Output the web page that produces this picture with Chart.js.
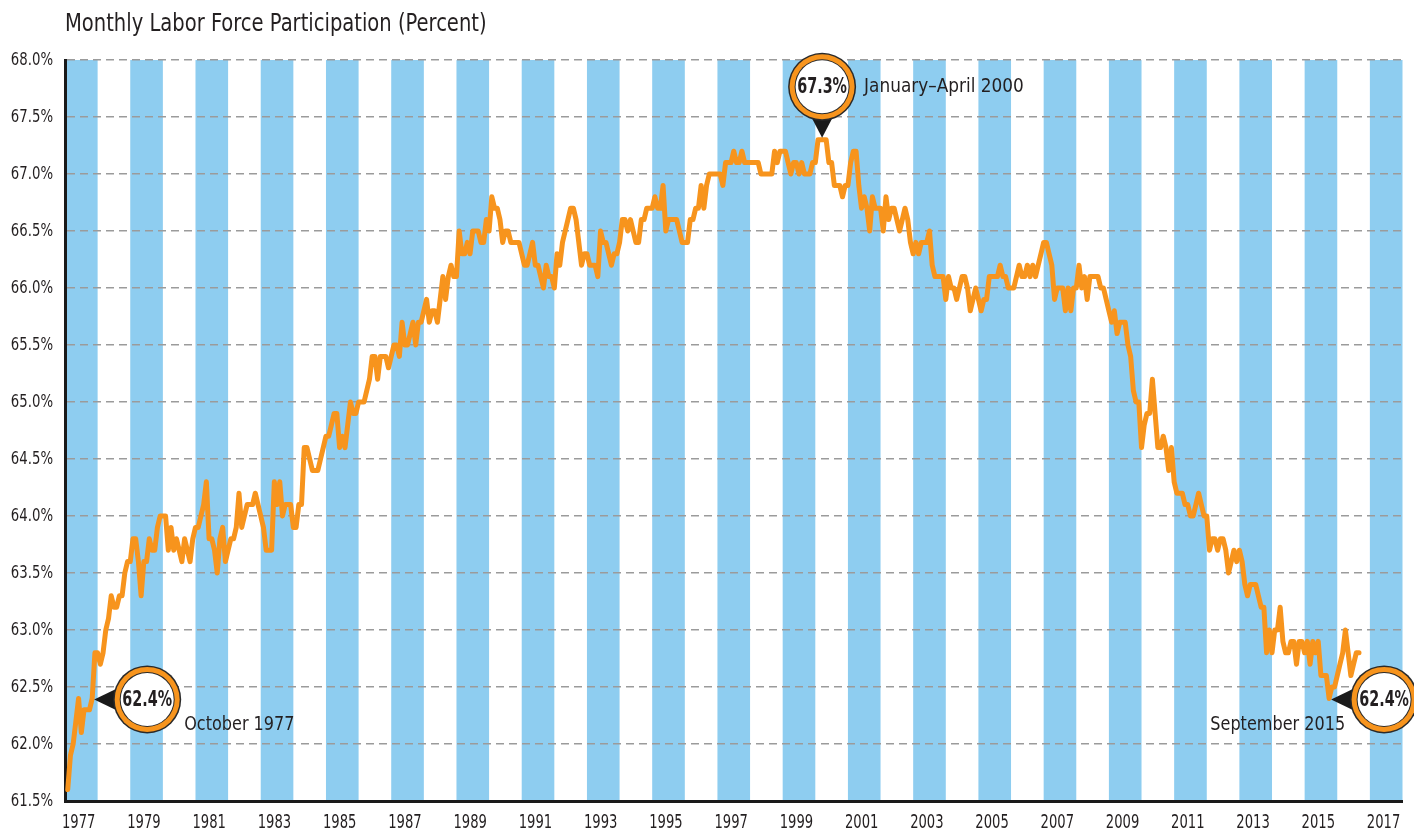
<!DOCTYPE html>
<html>
<head>
<meta charset="utf-8">
<title>Monthly Labor Force Participation</title>
<script src="https://cdn.jsdelivr.net/npm/chart.js@4.4.1/dist/chart.umd.min.js"></script>
<style>
  html, body { margin: 0; padding: 0; background: #fff; }
  #wrap { width: 1414px; height: 832px; position: relative; }
</style>
</head>
<body>
<div id="wrap"><canvas id="chart-lfpr"></canvas></div>
<script>
// monthly labor force participation rate, Jan 1977 .. Aug 2016 (one row per year)
const firstYear = 1977
const participation = [
  61.6, 61.9, 62.0, 62.2, 62.4, 62.1, 62.3, 62.3, 62.3, 62.4, 62.8, 62.8,
  62.7, 62.8, 63.0, 63.1, 63.3, 63.2, 63.2, 63.3, 63.3, 63.5, 63.6, 63.6,
  63.8, 63.8, 63.6, 63.3, 63.6, 63.6, 63.8, 63.7, 63.7, 63.9, 64.0, 64.0,
  64.0, 63.7, 63.9, 63.7, 63.8, 63.7, 63.6, 63.8, 63.7, 63.6, 63.8, 63.9,
  63.9, 64.0, 64.1, 64.3, 63.8, 63.8, 63.7, 63.5, 63.8, 63.9, 63.6, 63.7,
  63.8, 63.8, 63.9, 64.2, 63.9, 64.0, 64.1, 64.1, 64.1, 64.2, 64.1, 64.0,
  63.9, 63.7, 63.7, 63.7, 64.3, 64.1, 64.3, 64.0, 64.1, 64.1, 64.1, 63.9,
  63.9, 64.1, 64.1, 64.6, 64.6, 64.5, 64.4, 64.4, 64.4, 64.5, 64.6, 64.7,
  64.7, 64.8, 64.9, 64.9, 64.6, 64.7, 64.6, 64.8, 65.0, 64.9, 64.9, 65.0,
  65.0, 65.0, 65.1, 65.2, 65.4, 65.4, 65.2, 65.4, 65.4, 65.4, 65.3, 65.4,
  65.5, 65.5, 65.4, 65.7, 65.5, 65.5, 65.6, 65.7, 65.5, 65.7, 65.7, 65.8,
  65.9, 65.7, 65.8, 65.8, 65.7, 65.9, 66.1, 65.9, 66.1, 66.2, 66.1, 66.1,
  66.5, 66.3, 66.3, 66.4, 66.3, 66.5, 66.5, 66.5, 66.4, 66.4, 66.6, 66.5,
  66.8, 66.7, 66.7, 66.6, 66.4, 66.5, 66.5, 66.4, 66.4, 66.4, 66.4, 66.3,
  66.2, 66.2, 66.3, 66.4, 66.2, 66.2, 66.1, 66.0, 66.2, 66.1, 66.1, 66.0,
  66.3, 66.2, 66.4, 66.5, 66.6, 66.7, 66.7, 66.6, 66.4, 66.2, 66.3, 66.3,
  66.2, 66.2, 66.2, 66.1, 66.5, 66.4, 66.4, 66.3, 66.2, 66.3, 66.3, 66.4,
  66.6, 66.6, 66.5, 66.6, 66.5, 66.4, 66.4, 66.6, 66.6, 66.7, 66.7, 66.7,
  66.8, 66.7, 66.7, 66.9, 66.5, 66.6, 66.6, 66.6, 66.6, 66.5, 66.4, 66.4,
  66.4, 66.6, 66.6, 66.7, 66.7, 66.9, 66.7, 66.9, 67.0, 67.0, 67.0, 67.0,
  67.0, 66.9, 67.1, 67.1, 67.1, 67.2, 67.1, 67.1, 67.2, 67.1, 67.1, 67.1,
  67.1, 67.1, 67.1, 67.0, 67.0, 67.0, 67.0, 67.0, 67.2, 67.1, 67.2, 67.2,
  67.2, 67.1, 67.0, 67.1, 67.1, 67.0, 67.1, 67.0, 67.0, 67.0, 67.1, 67.1,
  67.3, 67.3, 67.3, 67.3, 67.1, 67.1, 66.9, 66.9, 66.9, 66.8, 66.9, 66.9,
  67.1, 67.2, 67.2, 66.9, 66.7, 66.8, 66.7, 66.5, 66.8, 66.7, 66.7, 66.7,
  66.5, 66.8, 66.6, 66.7, 66.7, 66.6, 66.5, 66.6, 66.7, 66.6, 66.4, 66.3,
  66.4, 66.3, 66.4, 66.4, 66.4, 66.5, 66.2, 66.1, 66.1, 66.1, 66.1, 65.9,
  66.1, 66.0, 66.0, 65.9, 66.0, 66.1, 66.1, 66.0, 65.8, 65.9, 66.0, 65.9,
  65.8, 65.9, 65.9, 66.1, 66.1, 66.1, 66.1, 66.2, 66.1, 66.1, 66.0, 66.0,
  66.0, 66.1, 66.2, 66.1, 66.1, 66.2, 66.1, 66.2, 66.1, 66.2, 66.3, 66.4,
  66.4, 66.3, 66.2, 65.9, 66.0, 66.0, 66.0, 65.8, 66.0, 65.8, 66.0, 66.0,
  66.2, 66.0, 66.1, 65.9, 66.1, 66.1, 66.1, 66.1, 66.0, 66.0, 65.9, 65.8,
  65.7, 65.8, 65.6, 65.7, 65.7, 65.7, 65.5, 65.4, 65.1, 65.0, 65.0, 64.6,
  64.8, 64.9, 64.9, 65.2, 64.9, 64.6, 64.6, 64.7, 64.6, 64.4, 64.6, 64.3,
  64.2, 64.2, 64.2, 64.1, 64.1, 64.0, 64.0, 64.1, 64.2, 64.1, 64.0, 64.0,
  63.7, 63.8, 63.8, 63.7, 63.8, 63.8, 63.7, 63.5, 63.6, 63.7, 63.6, 63.7,
  63.6, 63.4, 63.3, 63.4, 63.4, 63.4, 63.3, 63.2, 63.2, 62.8, 63.0, 62.8,
  63.0, 63.0, 63.2, 62.9, 62.8, 62.8, 62.9, 62.9, 62.7, 62.9, 62.9, 62.8,
  62.9, 62.7, 62.9, 62.8, 62.9, 62.6, 62.6, 62.6, 62.4, 62.5, 62.5, 62.6,
  62.7, 62.8, 63.0, 62.8, 62.6, 62.7, 62.8, 62.8,
]

const tickYears = [1977, 1979, 1981, 1983, 1985, 1987, 1989, 1991, 1993, 1995, 1997,
  1999, 2001, 2003, 2005, 2007, 2009, 2011, 2013, 2015, 2017]

const yMin = 61.5
const yMax = 68.0
const lastYear = 2018

// callouts: value, month (year + month / 12), label
const calloutValues = [62.4, 67.3, 62.4]
const calloutMonths = [1977 + 10 / 12, 2000 + 2.5 / 12, 2015 + 9 / 12]
const calloutNotes = ["October 1977", "January\u2013April 2000", "September 2015"]

// no narrow font installed, so condensed text gets squeezed a bit more by hand
const FONT = '"DejaVu Sans Condensed", "Liberation Sans Narrow", sans-serif'
const TEXT = "#231f20"
const ORANGE = "#f7941d"
const BAND = "#8ecdf0"

const points = participation.map((v, i) => ({ x: firstYear + (i + 1) / 12, y: v }))

function narrowText(ctx, text, x, y, align, font, sx) {
  ctx.save()
  ctx.font = font
  ctx.fillStyle = TEXT
  ctx.textAlign = align
  ctx.textBaseline = "middle"
  ctx.translate(x, y)
  ctx.scale(sx, 1)
  ctx.fillText(text, 0, 0)
  ctx.restore()
}

const yearBands = {
  id: "yearBands",
  beforeDraw(chart) {
    const { ctx, chartArea, scales } = chart
    ctx.save()
    ctx.fillStyle = BAND
    tickYears.forEach((yr) => {
      const x0 = scales.x.getPixelForValue(yr)
      const x1 = scales.x.getPixelForValue(yr + 1)
      ctx.fillRect(x0, chartArea.top, x1 - x0, chartArea.bottom - chartArea.top)
    })
    ctx.restore()
  },
}

function drawBubble(ctx, cx, cy, text) {
  ctx.fillStyle = "#2a2a2a"
  ctx.beginPath(); ctx.arc(cx, cy, 34, 0, Math.PI * 2); ctx.fill()
  ctx.fillStyle = ORANGE
  ctx.beginPath(); ctx.arc(cx, cy, 32.5, 0, Math.PI * 2); ctx.fill()
  ctx.fillStyle = "#2a2a2a"
  ctx.beginPath(); ctx.arc(cx, cy, 27.5, 0, Math.PI * 2); ctx.fill()
  ctx.fillStyle = "#fff"
  ctx.beginPath(); ctx.arc(cx, cy, 26.5, 0, Math.PI * 2); ctx.fill()
  narrowText(ctx, text, cx, cy + 1, "center", "bold 21px " + FONT, 0.76)
}

const labelsAndCallouts = {
  id: "labelsAndCallouts",
  afterDraw(chart) {
    const { ctx, scales, chartArea } = chart

    narrowText(ctx, "Monthly Labor Force Participation (Percent)", 65, 25, "left", "24px " + FONT, 0.905)

    scales.y.ticks.forEach((t) => {
      const y = scales.y.getPixelForValue(t.value)
      narrowText(ctx, t.value.toFixed(1) + "%", chartArea.left - 12, y, "right", "18px " + FONT, 0.82)
    })
    scales.x.ticks.forEach((t) => {
      const x = scales.x.getPixelForValue(t.value)
      narrowText(ctx, String(Math.floor(t.value)), x, chartArea.bottom + 22, "center", "19px " + FONT, 0.77)
    })

    calloutValues.forEach((val, i) => {
      const tx = scales.x.getPixelForValue(calloutMonths[i])
      const ty = scales.y.getPixelForValue(val)
      const label = val.toFixed(1) + "%"
      ctx.save()
      ctx.fillStyle = "#1a1a1a"
      ctx.beginPath()
      if (i === 1) {
        // pointer down, bubble above
        const cx = tx, cy = ty - 53
        ctx.moveTo(tx, ty - 2)
        ctx.lineTo(cx - 13, cy + 26)
        ctx.lineTo(cx + 13, cy + 26)
        ctx.closePath(); ctx.fill()
        drawBubble(ctx, cx, cy, label)
        narrowText(ctx, calloutNotes[i], cx + 42, cy, "left", "19px " + FONT, 0.99)
      } else {
        // pointer left, bubble right
        const px = tx + 2, py = ty + 1
        const cx = px + 53, cy = py
        ctx.moveTo(px, py)
        ctx.lineTo(cx - 26, cy - 13)
        ctx.lineTo(cx - 26, cy + 13)
        ctx.closePath(); ctx.fill()
        drawBubble(ctx, cx, cy, label)
        if (i === 0) {
          narrowText(ctx, calloutNotes[i], px + 90, py + 26, "left", "19px " + FONT, 0.94)
        } else {
          narrowText(ctx, calloutNotes[i], px + 14, py + 26, "right", "19px " + FONT, 0.94)
        }
      }
      ctx.restore()
    })
  },
}

new Chart(document.getElementById("chart-lfpr"), {
  type: "line",
  data: {
    datasets: [
      {
        label: "Participation",
        data: points,
        borderColor: ORANGE,
        borderWidth: 5,
        pointRadius: 0,
        tension: 0,
        borderJoinStyle: "round",
        borderCapStyle: "round",
      },
    ],
  },
  options: {
    responsive: true,
    maintainAspectRatio: false,
    animation: false,
    devicePixelRatio: 1,
    layout: { padding: { top: 60, right: 11.5, left: 0, bottom: 0 } },
    plugins: { legend: { display: false }, tooltip: { enabled: false } },
    scales: {
      x: {
        type: "linear",
        min: firstYear,
        max: lastYear,
        afterBuildTicks: (scale) => {
          scale.ticks = tickYears.map((yr) => ({ value: yr + 0.42 }))
        },
        afterFit: (scale) => { scale.height = 31 },
        grid: { display: false, drawTicks: false },
        border: { display: true, color: "#1a1a1a", width: 3 },
        ticks: { display: false, autoSkip: false },
      },
      y: {
        min: yMin,
        max: yMax,
        afterFit: (scale) => { scale.width = 65 },
        grid: {
          color: "#9b9b9b",
          lineWidth: 1.5,
          drawTicks: false,
        },
        border: { display: true, color: "#1a1a1a", width: 3, dash: [8, 5] },
        ticks: { display: false, stepSize: 0.5 },
      },
    },
  },
  plugins: [yearBands, labelsAndCallouts],
})
</script>
</body>
</html>
